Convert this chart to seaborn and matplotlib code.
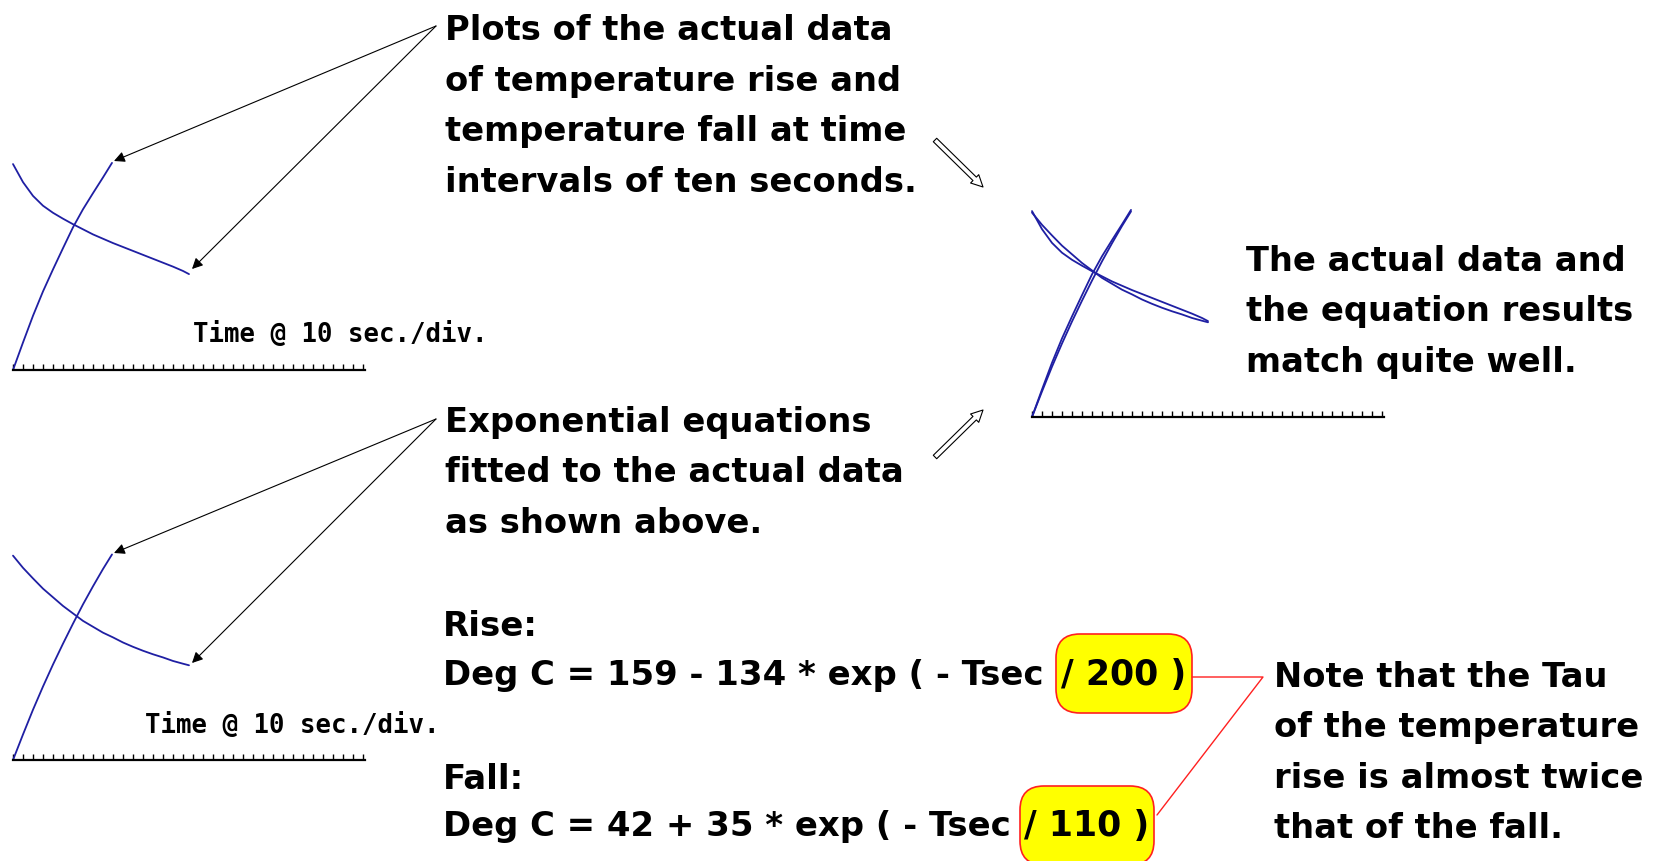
import matplotlib
matplotlib.use("Agg")
import matplotlib.pyplot as plt
from matplotlib.patches import FancyBboxPatch
import seaborn as sns

# ---------------------------------------------------------------
# data: time in seconds, temperature in deg C
# ---------------------------------------------------------------
t_rise = [0, 10, 20, 30, 40, 50, 60, 70, 80, 90, 99]
actual_rise = [25.0, 32.0, 38.8, 45.0, 50.6, 56.0, 61.3, 65.9, 70.0, 74.0, 77.7]
fit_rise = [25.0, 31.5, 37.8, 43.7, 49.3, 54.6, 59.7, 64.6, 69.2, 73.6, 77.3]

t_fall = [0, 10, 20, 30, 40, 50, 60, 70, 80, 90, 100, 110, 120, 130, 140,
          150, 160, 170, 176]
actual_fall = [77.4, 72.8, 69.3, 66.8, 65.0, 63.5, 62.1, 60.8, 59.5, 58.4,
               57.3, 56.3, 55.3, 54.3, 53.3, 52.3, 51.3, 50.2, 49.4]
fit_fall = [77.0, 73.9, 71.2, 68.6, 66.4, 64.2, 62.3, 60.4, 58.9, 57.4,
            56.2, 54.9, 53.8, 52.8, 51.9, 51.1, 50.2, 49.5, 49.1]

tick_secs = list(range(0, 351, 10))   # 10 sec./div.
axis_label = "Time @ 10 sec./div."

note_top = ["Plots of the actual data", "of temperature rise and",
            "temperature fall at time", "intervals of ten seconds."]
note_fit = ["Exponential equations", "fitted to the actual data",
            "as shown above."]
note_match = ["The actual data and", "the equation results",
              "match quite well."]
note_tau = ["Note that the Tau", "of the temperature",
            "rise is almost twice", "that of the fall."]
rise_eq = "Deg C = 159 - 134 * exp ( - Tsec"
fall_eq = "Deg C = 42 + 35 * exp ( - Tsec"
rise_tau = "/ 200 )"
fall_tau = "/ 110 )"

# ---------------------------------------------------------------
W, H = 1655, 861
BLUE = "#1f1fa3"
sns.set_style("white")
plt.rcParams['font.family'] = ['DejaVu Sans']
plt.rcParams['text.color'] = 'black'

fig = plt.figure(figsize=(W / 100, H / 100), dpi=100)

# overlay in pixel units for the notes and arrows
ov = fig.add_axes([0, 0, 1, 1])
ov.set_xlim(0, W)
ov.set_ylim(H, 0)
ov.axis('off')

PX_DEG = 3.93
Y_LO, Y_HI = 25, 80


def chart(left, base, curves, label_x=None, label_y=None):
    h = (Y_HI - Y_LO) * PX_DEG
    ax = fig.add_axes([left / W, (H - base) / H, 352 / W, h / H])
    ax.patch.set_visible(False)
    for x, y in curves:
        sns.lineplot(x=x, y=y, ax=ax, color=BLUE, lw=1.3, clip_on=False)
    ax.set_xlim(0, 352)
    ax.set_ylim(Y_LO, Y_HI)
    ax.set_xticks(tick_secs)
    ax.set_yticks([])
    ax.tick_params(axis='x', direction='in', length=4, width=1,
                   bottom=True, labelbottom=False, color='black')
    for s in ['left', 'top', 'right']:
        ax.spines[s].set_visible(False)
    ax.spines['bottom'].set_linewidth(1.6)
    ax.spines['bottom'].set_color('black')
    ax.set_xlabel('')
    ax.set_ylabel('')
    if label_x is not None:
        ov.text(label_x, label_y, axis_label, family='DejaVu Sans Mono',
                fontweight='bold', fontsize=18.5, va='baseline')
    return ax


chart(13, 370, [(t_rise, actual_rise), (t_fall, actual_fall)], 193, 342)
chart(13, 760, [(t_rise, fit_rise), (t_fall, fit_fall)], 145, 733)
chart(1032, 417, [(t_rise, actual_rise), (t_fall, actual_fall),
                  (t_rise, fit_rise), (t_fall, fit_fall)])


def lines(x, y0, rows, size=24.3, step=50.5):
    for i, r in enumerate(rows):
        ov.text(x, y0 + i * step, r, fontsize=size, fontweight='bold',
                va='baseline')


lines(445, 40, note_top)
lines(445, 432, note_fit)
lines(1246, 271, note_match)
lines(1274, 687, note_tau)
lines(443, 636, ["Rise:"], size=24.5)
lines(443, 789, ["Fall:"], size=24.5)
ov.text(443, 685, rise_eq, fontsize=24.4, fontweight='bold', va='baseline')
ov.text(443, 836, fall_eq, fontsize=24.4, fontweight='bold', va='baseline')

# yellow boxes round the time constants
for (bx, by, bw, bh), txt, base in [((1056, 634, 136, 79), rise_tau, 685),
                                     ((1020, 786, 134, 79), fall_tau, 836)]:
    ov.add_patch(FancyBboxPatch((bx, by), bw, bh,
                                boxstyle="round,pad=0,rounding_size=24",
                                fc='#ffff00', ec='#ff2020', lw=1.2))
    ov.text(bx + bw / 2, base, txt, fontsize=25, fontweight='bold',
            ha='center', va='baseline')

ov.plot([1192, 1263, 1157], [677, 677, 815], color='#ff2020', lw=1)

# pointer arrows
arrow = dict(arrowstyle='-|>', color='black', lw=0.8, mutation_scale=16,
             shrinkA=0, shrinkB=0)
for src, dst in [((436, 26), (114, 161)), ((436, 26), (192, 269)),
                 ((436, 419), (114, 553)), ((436, 419), (192, 663))]:
    ov.annotate('', xy=dst, xytext=src, arrowprops=arrow)

hollow = dict(arrowstyle='simple,head_length=0.6,head_width=0.6,tail_width=0.25',
              fc='white', ec='black', lw=0.8, mutation_scale=14,
              shrinkA=0, shrinkB=0)
ov.annotate('', xy=(983, 187), xytext=(935, 140), arrowprops=hollow)
ov.annotate('', xy=(983, 410), xytext=(935, 457), arrowprops=hollow)

fig.savefig("out.png", dpi=100, facecolor='white')
